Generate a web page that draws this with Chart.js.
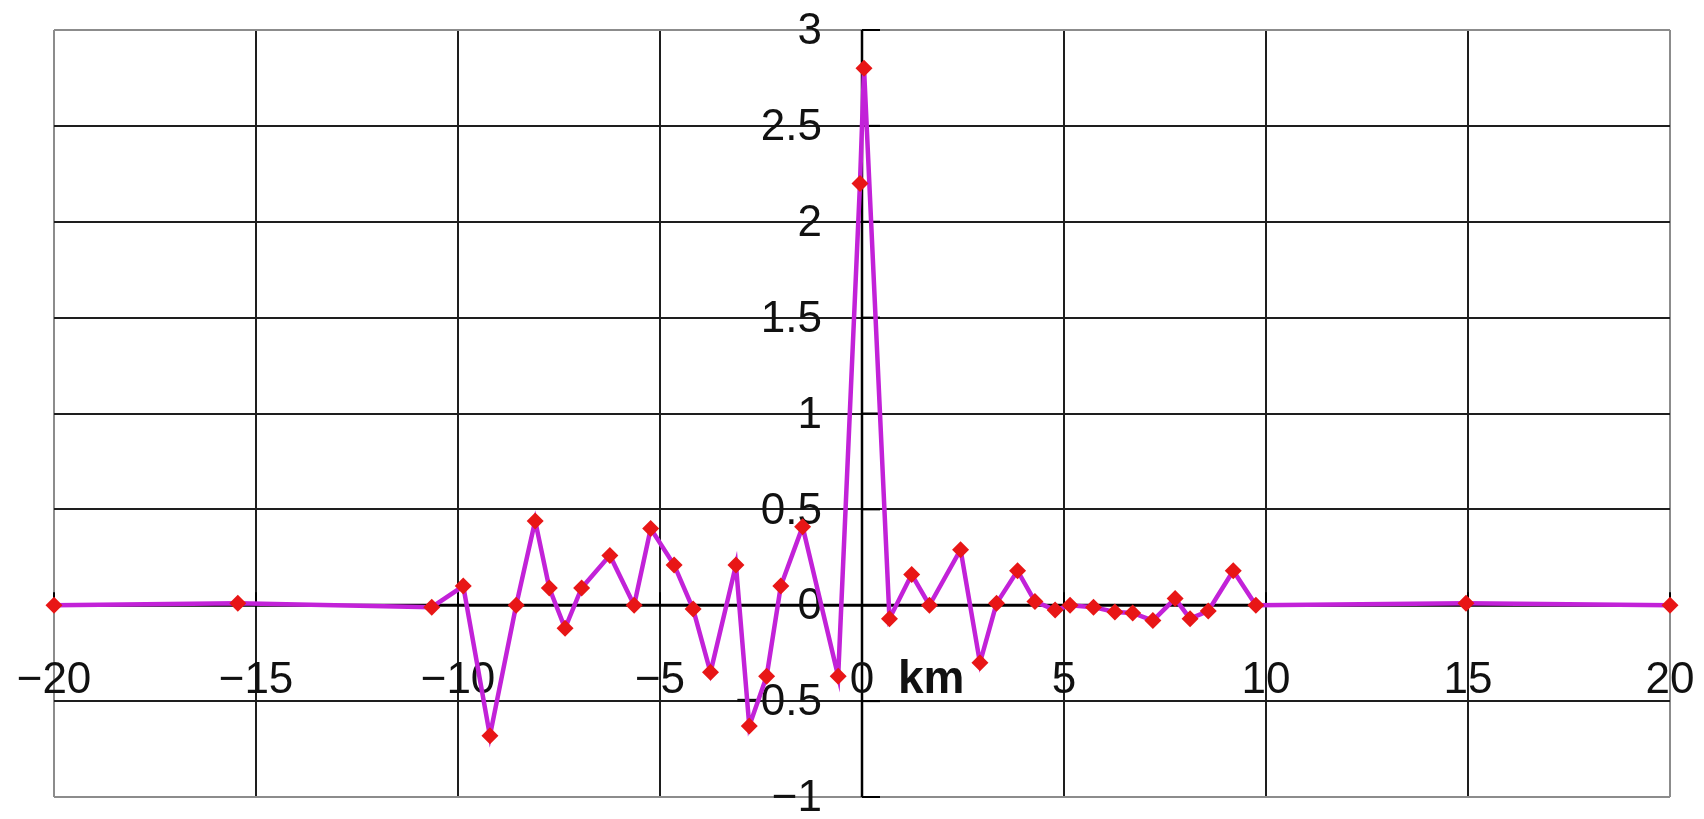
<!DOCTYPE html>
<html>
<head>
<meta charset="utf-8">
<script src="https://cdn.jsdelivr.net/npm/chart.js@4/dist/chart.umd.min.js"></script>
<style>
  html, body { margin: 0; padding: 0; background: #fff; }
  #c { display: block; }
</style>
</head>
<body>
<canvas id="c" width="1704" height="819"></canvas>
<script>
// Sampled profile: distance along the line (km) and amplitude
const distanceKm = [
  -20, -15.45, -10.65, -9.87, -9.21, -8.56, -8.09, -7.74, -7.35, -6.94,
  -6.24, -5.64, -5.23, -4.65, -4.18, -3.75, -3.12, -2.79, -2.36, -2.01,
  -1.47, -0.59, -0.05, 0.05, 0.68, 1.23, 1.67, 2.44, 2.92, 3.33,
  3.85, 4.28, 4.78, 5.15, 5.73, 6.26, 6.70, 7.20, 7.75, 8.12,
  8.57, 9.19, 9.75, 14.95, 20
];
const amplitude = [
  0, 0.01, -0.01, 0.10, -0.68, 0.0, 0.44, 0.09, -0.12, 0.09,
  0.26, 0.0, 0.40, 0.21, -0.02, -0.35, 0.21, -0.63, -0.37, 0.10,
  0.41, -0.37, 2.20, 2.80, -0.07, 0.16, 0.0, 0.29, -0.30, 0.01,
  0.18, 0.02, -0.025, 0.0, -0.01, -0.035, -0.04, -0.08, 0.035, -0.07,
  -0.03, 0.18, 0.0, 0.01, 0
];

// Axis ticks and their labels
const xTickValues = [-20, -15, -10, -5, 0, 5, 10, 15, 20];
const xTickLabels = ['\u221220', '\u221215', '\u221210', '\u22125', '0', '5', '10', '15', '20'];
const yTickValues = [3, 2.5, 2, 1.5, 1, 0.5, 0, -0.5, -1];
const yTickLabels = ['3', '2.5', '2', '1.5', '1', '0.5', '0', '\u22120.5', '\u22121'];
const unitLabel = 'km';

const points = distanceKm.map((d, i) => ({ x: d, y: amplitude[i] }));

// Axes crossing at the origin, with inward ticks and labels beside them
const crossAxes = {
  id: 'crossAxes',
  beforeDatasetsDraw(chart) {
    const { ctx, scales: { x, y } } = chart;
    const x0 = x.getPixelForValue(0);
    const y0 = y.getPixelForValue(0);
    ctx.save();
    ctx.strokeStyle = '#000';
    ctx.lineCap = 'butt';

    // horizontal zero line
    ctx.lineWidth = 3;
    ctx.beginPath();
    ctx.moveTo(x.left, y0);
    ctx.lineTo(x.right, y0);
    ctx.stroke();

    // vertical axis at x = 0
    ctx.lineWidth = 2.5;
    ctx.beginPath();
    ctx.moveTo(x0, y.getPixelForValue(-1));
    ctx.lineTo(x0, y.getPixelForValue(3));
    ctx.stroke();

    // tick marks
    ctx.lineWidth = 2;
    yTickValues.forEach(v => {
      const py = y.getPixelForValue(v);
      ctx.beginPath();
      ctx.moveTo(x0, py);
      ctx.lineTo(x0 + 18, py);
      ctx.stroke();
    });
    xTickValues.forEach(v => {
      const px = x.getPixelForValue(v);
      ctx.beginPath();
      ctx.moveTo(px, y0);
      ctx.lineTo(px, y0 - 13);
      ctx.stroke();
    });

    // tick labels
    ctx.fillStyle = '#111';
    ctx.font = '44px "Liberation Sans", Arial, sans-serif';
    ctx.textAlign = 'right';
    ctx.textBaseline = 'middle';
    yTickValues.forEach((v, i) => {
      ctx.fillText(yTickLabels[i], x0 - 40, y.getPixelForValue(v) + 2);
    });
    ctx.textAlign = 'center';
    ctx.textBaseline = 'alphabetic';
    xTickValues.forEach((v, i) => {
      ctx.fillText(xTickLabels[i], x.getPixelForValue(v), y0 + 88);
    });

    // unit
    ctx.font = 'bold 46px "Liberation Sans", Arial, sans-serif';
    ctx.textAlign = 'left';
    ctx.fillText(unitLabel, x0 + 36, y0 + 88);
    ctx.restore();
  }
};

const edgeGray = '#8c8c8c';
const gridDark = '#1e1e1e';

new Chart(document.getElementById('c'), {
  type: 'scatter',
  data: {
    datasets: [{
      data: points,
      showLine: true,
      borderColor: '#c222d8',
      borderWidth: 4.5,
      tension: 0,
      pointStyle: 'rectRot',
      pointRadius: 8.5,
      pointHoverRadius: 8.5,
      pointBackgroundColor: '#e81616',
      pointBorderColor: '#e81616',
      pointBorderWidth: 0,
      clip: false
    }]
  },
  options: {
    responsive: false,
    devicePixelRatio: 1,
    animation: false,
    layout: { padding: { left: 54, right: 34, top: 30, bottom: 22 } },
    plugins: { legend: { display: false }, tooltip: { enabled: false } },
    scales: {
      x: {
        type: 'linear',
        min: -20,
        max: 20,
        ticks: { display: false, stepSize: 5 },
        border: { display: false },
        grid: {
          drawTicks: false,
          color: c => (c.tick && Math.abs(c.tick.value) === 20) ? edgeGray : gridDark,
          lineWidth: 2
        }
      },
      y: {
        type: 'linear',
        min: -1,
        max: 3,
        ticks: { display: false, stepSize: 0.5 },
        border: { display: false },
        grid: {
          drawTicks: false,
          color: c => (c.tick && (c.tick.value === 3 || c.tick.value === -1)) ? edgeGray : gridDark,
          lineWidth: 2
        }
      }
    }
  },
  plugins: [crossAxes]
});
</script>
</body>
</html>
